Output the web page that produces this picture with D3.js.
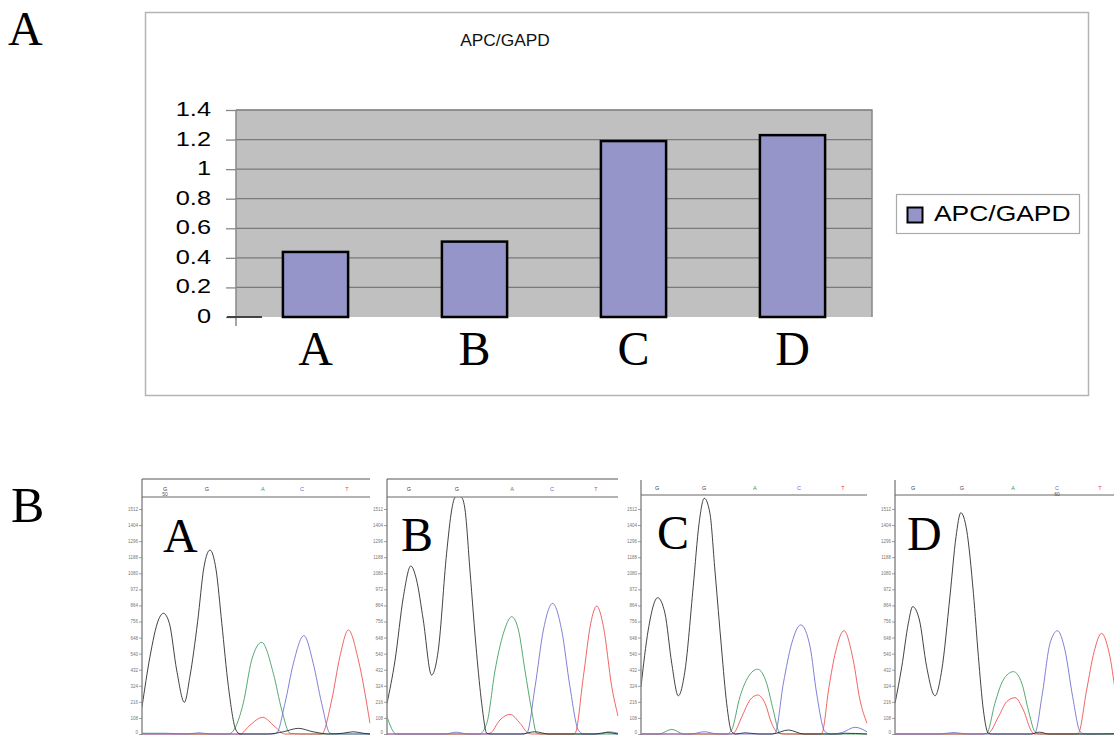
<!DOCTYPE html>
<html>
<head>
<meta charset="utf-8">
<script src="https://cdn.jsdelivr.net/npm/d3@7/dist/d3.min.js"></script>
<style>
  html, body { margin: 0; padding: 0; background: #fff; }
  svg { display: block; }
</style>
</head>
<body>
<svg id="fig" width="1114" height="735"></svg>
<script>
// ---------------- DATA: bar chart (panel A) ----------------
const categories = ["A", "B", "C", "D"];
const apcGapd = [0.44, 0.51, 1.19, 1.23];
const barTicks = [0, 0.2, 0.4, 0.6, 0.8, 1, 1.2, 1.4];
const barTickLabels = ["0", "0.2", "0.4", "0.6", "0.8", "1", "1.2", "1.4"];
const chartTitle = "APC/GAPD";
const seriesName = "APC/GAPD";

// ---------------- DATA: chromatograms (panel B) ----------------
const traceTicks = [0, 108, 216, 324, 432, 540, 648, 756, 864, 972, 1080, 1188, 1296, 1404, 1512];
const baseCalls = ["G", "G", "A", "C", "T"];
const panelNames = ["A", "B", "C", "D"];
// base-call positions (scan units 0..100) per panel
const basePosA = [10.1, 28.5, 53, 70.2, 89.9];
const basePosB = [9.5, 30.3, 54.1, 71.4, 90.5];
const basePosC = [7.1, 27.9, 50.4, 69.9, 89.4];
const basePosD = [8, 29.6, 52.2, 71.7, 90.7];
const baseNumA = ["50", "", "", "", ""];
const baseNumB = ["", "", "", "", ""];
const baseNumC = ["", "", "", "", ""];
const baseNumD = ["", "", "", "60", ""];

// traces: [scan, signal]
const blackA = [[0,180],[3.5,520],[7.2,766],[9.4,811],[12,744],[15.2,430],[18.6,213],[21,385],[24.4,755],[27.2,1124],[29.8,1236],[32.5,1102],[35,744],[37.9,318],[41.2,27],[43,0],[55,0],[62,15],[68.6,38],[75,15],[82,0],[88,5],[92.7,15],[97,5],[100,0]];
const greenA = [[0,5],[10,5],[20,0],[38,0],[40,20],[44.4,206],[48.1,497],[52.5,616],[57.6,408],[61.3,161],[64.9,5],[70,0],[100,0]];
const redA   = [[0,0],[43,0],[47.4,60],[52.9,112],[58.3,49],[62.6,0],[78.8,0],[83.2,228],[86.8,520],[90.5,699],[94.9,497],[100,72]];
const blueA  = [[0,0],[20,0],[25,8],[30,0],[57,0],[59,5],[62.7,206],[66.4,475],[71,661],[75.1,475],[78.8,206],[82.5,5],[85,0],[100,0]];

const blackB = [[0,206],[3.5,497],[7.1,923],[10.3,1129],[12.8,1035],[15.7,766],[19.3,396],[22.2,564],[25.8,1214],[28,1505],[29.4,1590],[30.8,1600],[32.3,1590],[33.8,1505],[35.9,1102],[38.8,542],[41,206],[43.2,5],[45,0],[58,0],[64,15],[70,0],[90,0],[95,10],[100,0]];
const greenB = [[0,116],[4,0],[40,0],[43.2,72],[46.8,430],[50.4,677],[54,788],[56.9,699],[59.7,430],[62.6,161],[64.8,5],[67,0],[100,0]];
const redB   = [[0,0],[42,0],[44.6,5],[48.9,94],[53.2,132],[57.6,72],[61.2,5],[63,0],[80,0],[81.4,5],[85,385],[88.2,744],[90.8,860],[93.7,721],[97.3,318],[100,121]];
const blueB  = [[0,0],[25,0],[30,12],[35,0],[59,0],[60.5,5],[64.1,318],[67.7,699],[71.7,878],[75.6,699],[79.2,318],[82.8,27],[85,0],[92,0],[96,15],[100,5]];

const blackC = [[0,318],[3.2,699],[7.4,916],[10.6,811],[13.6,475],[16.5,257],[19.5,430],[23.1,990],[25.7,1416],[28,1584],[30.5,1483],[32.7,1102],[35.7,564],[37.9,206],[40.1,16],[42,0],[46,8],[52,0],[58,0],[65.2,27],[72,0],[88,0],[90,5],[100,0]];
const greenC = [[0,0],[8,0],[13.6,31],[19,0],[38,0],[40.1,27],[43.8,251],[47.5,385],[51.6,435],[55.6,341],[58.5,161],[61.5,5],[64,0],[100,0]];
const redC   = [[0,0],[39,0],[40.9,5],[44.6,116],[48.2,228],[51.6,262],[54.9,206],[57.8,72],[60.8,5],[63,0],[78,0],[80,5],[83.2,318],[86.1,553],[89.8,694],[93.9,497],[96.9,228],[100,72]];
const blueC  = [[0,0],[22,0],[28,15],[34,0],[57,0],[59.3,5],[63,341],[66.7,610],[70.7,733],[74.8,587],[77.7,274],[81.4,16],[84,0],[89,10],[94.7,45],[100,15]];

const blackD = [[0,206],[3,452],[5.9,744],[7.8,856],[10.8,766],[14,452],[17.7,257],[20.7,430],[24.3,923],[27,1326],[29.1,1487],[31.7,1371],[34.7,945],[36.9,520],[39.1,161],[41.3,5],[43,0],[60,0],[64,12],[68,0],[100,0]];
const greenD = [[0,0],[38,0],[40.6,5],[44.2,206],[47.9,363],[52.4,419],[56.1,341],[59,161],[61.9,16],[64,0],[100,0]];
const redD   = [[0,0],[39,0],[41.3,5],[45.8,116],[49.4,217],[53.1,244],[56.8,161],[60.5,16],[62,0],[79,0],[81.1,5],[84.8,296],[88.1,553],[91.4,676],[95.1,520],[98,250],[100,150]];
const blueD  = [[0,0],[20,0],[26,10],[32,0],[60,0],[61.9,5],[65,251],[68.6,610],[71.9,694],[75.2,564],[78.6,251],[81.9,16],[84,0],[100,5]];

// ---------------- DRAW ----------------
const svg = d3.select("#fig");
const serif = "'Liberation Serif', 'Times New Roman', serif";
const sans = "'Liberation Sans', Arial, sans-serif";

// Panel letters
svg.append("text").attr("x", 8).attr("y", 45).attr("font-family", serif).attr("font-size", 48).text("A");
svg.append("text").attr("x", 11).attr("y", 522).attr("font-family", serif).attr("font-size", 50).text("B");

// ----- Bar chart -----
svg.append("rect").attr("x", 145.5).attr("y", 12.5).attr("width", 943).attr("height", 383)
  .attr("fill", "#fff").attr("stroke", "#b4b4b4").attr("stroke-width", 1.5);

const x = d3.scaleBand().domain(categories).range([236, 872]).paddingInner(0.59).paddingOuter(0.295);
const y = d3.scaleLinear().domain([0, 1.4]).range([317, 110]);

svg.append("text").attr("transform", "translate(505,46) scale(1.05,1)").attr("text-anchor", "middle")
  .attr("font-family", sans).attr("font-size", 16.5).attr("fill", "#111").text(chartTitle);

svg.append("rect").attr("x", 236).attr("y", y(1.4)).attr("width", 636).attr("height", y(0) - y(1.4))
  .attr("fill", "#c0c0c0");

// gridlines
svg.append("g").selectAll("line").data(barTicks.filter(d => d > 0)).join("line")
  .attr("x1", 236).attr("x2", 872).attr("y1", d => y(d)).attr("y2", d => y(d))
  .attr("stroke", "#7a7a7a").attr("stroke-width", 1.2);

// plot border (top/right)
svg.append("path").attr("d", `M236,${y(1.4)}H872V${y(0)}`).attr("fill", "none")
  .attr("stroke", "#888").attr("stroke-width", 1.5);

// y axis
const yAxis = d3.axisLeft(y).tickValues(barTicks).tickSize(10).tickPadding(15)
  .tickFormat((d, i) => barTickLabels[i]);
const gy = svg.append("g").attr("transform", "translate(236,0)").call(yAxis);
gy.select(".domain").remove();
gy.selectAll(".tick line").attr("stroke", "#888").attr("stroke-width", 1.3);
gy.selectAll(".tick text").attr("font-family", sans).attr("font-size", 19.5).attr("fill", "#000")
  .attr("dy", "0.28em")
  .each(function () {
    const t = d3.select(this);
    const xx = +t.attr("x");
    t.attr("x", null).attr("transform", `translate(${xx},0) scale(1.3,1)`);
  });
svg.append("line").attr("x1", 236).attr("x2", 236).attr("y1", y(1.4)).attr("y2", 326)
  .attr("stroke", "#888").attr("stroke-width", 1.5);
// short category axis stub
svg.append("line").attr("x1", 227).attr("x2", 262).attr("y1", y(0)).attr("y2", y(0))
  .attr("stroke", "#444").attr("stroke-width", 2);

// bars
svg.append("g").selectAll("rect").data(apcGapd).join("rect")
  .attr("x", (d, i) => x(categories[i])).attr("y", d => y(d))
  .attr("width", x.bandwidth()).attr("height", d => y(0) - y(d))
  .attr("fill", "#9595c9").attr("stroke", "#000").attr("stroke-width", 2.5);

// category labels
const xAxis = d3.axisBottom(x).tickSize(0).tickPadding(0);
const gx = svg.append("g").attr("transform", `translate(0,${y(0)})`).call(xAxis);
gx.select(".domain").remove();
gx.selectAll(".tick text").attr("font-family", serif).attr("font-size", 48).attr("fill", "#000")
  .attr("y", 48).attr("dy", 0);

// legend
svg.append("rect").attr("x", 896.5).attr("y", 194.5).attr("width", 183).attr("height", 39)
  .attr("fill", "#fff").attr("stroke", "#aaa").attr("stroke-width", 1.2);
svg.append("rect").attr("x", 907.5).attr("y", 207.5).attr("width", 15).attr("height", 15)
  .attr("fill", "#9595c9").attr("stroke", "#000").attr("stroke-width", 2);
svg.append("text").attr("transform", "translate(934,221) scale(1.23,1)")
  .attr("font-family", sans).attr("font-size", 21.5).attr("fill", "#000").text(seriesName);

// ----- Chromatograms -----
const traceColors = { black: "#222", green: "#3a9a5a", red: "#ee4a4a", blue: "#6a6ad0" };
const baseColors = { G: "#444", A: "#2e9a4e", C: "#6a6ad0", T: "#ee4040" };
const panels = [
  { name: panelNames[0], x0: 142, x1: 370, top: 479, hdr: 497, topLine: true, basePos: basePosA, baseNum: baseNumA,
    traces: [["green", greenA], ["red", redA], ["blue", blueA], ["black", blackA]], lx: 163, ly: 552 },
  { name: panelNames[1], x0: 387, x1: 618, top: 479, hdr: 497, topLine: true, basePos: basePosB, baseNum: baseNumB,
    traces: [["green", greenB], ["red", redB], ["blue", blueB], ["black", blackB]], lx: 401, ly: 551 },
  { name: panelNames[2], x0: 641, x1: 867, top: 480, hdr: 495, topLine: false, basePos: basePosC, baseNum: baseNumC,
    traces: [["green", greenC], ["red", redC], ["blue", blueC], ["black", blackC]], lx: 657, ly: 549 },
  { name: panelNames[3], x0: 895, x1: 1121, top: 480, hdr: 495, topLine: false, basePos: basePosD, baseNum: baseNumD,
    traces: [["green", greenD], ["red", redD], ["blue", blueD], ["black", blackD]], lx: 907, ly: 550 }
];

const defs = svg.append("defs");
panels.forEach((p, pi) => {
  const sx = d3.scaleLinear().domain([0, 100]).range([p.x0, p.x1]);
  const sy = d3.scaleLinear().domain([0, 1512]).range([734, 509]);
  const g = svg.append("g");

  // frame
  g.append("line").attr("x1", p.x0).attr("x2", p.x0).attr("y1", p.top).attr("y2", 735)
    .attr("stroke", "#555").attr("stroke-width", 1);
  if (p.topLine) {
    g.append("line").attr("x1", p.x0).attr("x2", p.x1).attr("y1", p.top).attr("y2", p.top)
      .attr("stroke", "#555").attr("stroke-width", 1);
  }
  g.append("line").attr("x1", p.x0).attr("x2", Math.min(p.x1, 1114)).attr("y1", p.hdr).attr("y2", p.hdr)
    .attr("stroke", "#666").attr("stroke-width", 1);

  // base calls
  g.selectAll("text.base").data(baseCalls).join("text").attr("class", "base")
    .attr("x", (d, i) => sx(p.basePos[i])).attr("y", (p.top + p.hdr) / 2 + 2.5)
    .attr("text-anchor", "middle").attr("font-family", sans).attr("font-size", 5.5)
    .attr("fill", d => baseColors[d]).text(d => d);
  g.selectAll("text.num").data(p.baseNum).join("text").attr("class", "num")
    .attr("x", (d, i) => sx(p.basePos[i])).attr("y", (p.top + p.hdr) / 2 + 8)
    .attr("text-anchor", "middle").attr("font-family", sans).attr("font-size", 5)
    .attr("fill", "#555").text(d => d);

  // y axis
  const ax = d3.axisLeft(sy).tickValues(traceTicks).tickSize(3).tickPadding(1).tickFormat(d3.format("d"));
  const ga = g.append("g").attr("transform", `translate(${p.x0},0)`).call(ax);
  ga.select(".domain").remove();
  ga.selectAll(".tick line").attr("stroke", "#777").attr("stroke-width", 0.7);
  ga.selectAll(".tick text").attr("font-family", sans).attr("font-size", 4.5).attr("fill", "#777")
    .attr("dy", d => d === 0 ? "-0.1em" : "0.32em");

  // clip
  const cid = "clip" + pi;
  defs.append("clipPath").attr("id", cid).append("rect")
    .attr("x", p.x0 + 0.5).attr("y", p.hdr + 0.5).attr("width", p.x1 - p.x0).attr("height", 735 - p.hdr);

  const line = d3.line().x(d => sx(d[0])).y(d => sy(d[1])).curve(d3.curveMonotoneX);
  const tg = g.append("g").attr("clip-path", `url(#${cid})`);
  p.traces.forEach(([col, data]) => {
    tg.append("path").datum(data).attr("d", line).attr("fill", "none")
      .attr("stroke", traceColors[col]).attr("stroke-width", 1).attr("stroke-opacity", 0.85);
  });

  // big panel letter
  g.append("text").attr("x", p.lx).attr("y", p.ly).attr("font-family", serif).attr("font-size", 48)
    .attr("fill", "#000").text(p.name);
});
</script>
</body>
</html>
